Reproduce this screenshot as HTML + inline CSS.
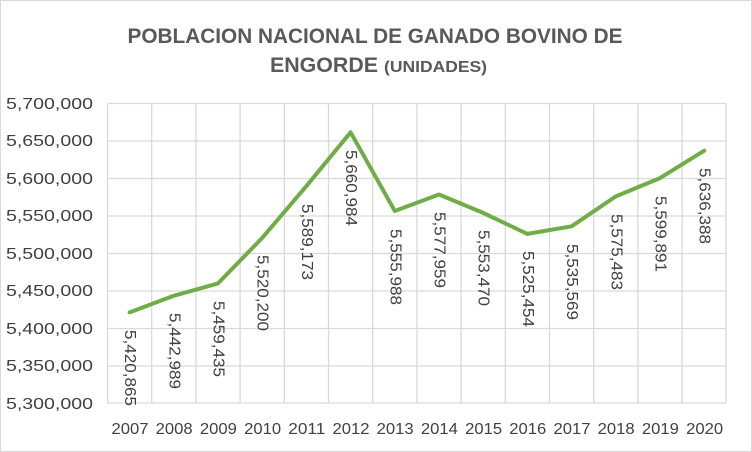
<!DOCTYPE html>
<html><head><meta charset="utf-8"><style>
html,body{margin:0;padding:0;background:#fff;}
svg{display:block;}
text{font-family:"Liberation Sans",sans-serif;}
</style></head><body>
<svg width="752" height="452" viewBox="0 0 752 452" xmlns="http://www.w3.org/2000/svg">
<rect x="0.5" y="0.5" width="751" height="451" fill="#fff" stroke="#d9d9d9"/>
<text x="375" y="43" text-anchor="middle" font-size="21" font-weight="bold" fill="#595959" textLength="495" lengthAdjust="spacingAndGlyphs">POBLACION NACIONAL DE GANADO BOVINO DE</text>
<text x="270" y="72" font-size="21" font-weight="bold" fill="#595959" textLength="108" lengthAdjust="spacingAndGlyphs">ENGORDE</text>
<text x="384" y="72" font-size="16" font-weight="bold" fill="#595959" textLength="103" lengthAdjust="spacingAndGlyphs">(UNIDADES)</text>
<g stroke="#d9d9d9" stroke-width="1.3" fill="none">
<path d="M107.5 103.5H726M107.5 141H726M107.5 178.5H726M107.5 216H726M107.5 253.5H726M107.5 291H726M107.5 328.5H726M107.5 366H726M107.5 403H726"/>
<path d="M107.5 103.5V403M151.7 103.5V403M195.9 103.5V403M240.1 103.5V403M284.3 103.5V403M328.5 103.5V403M372.7 103.5V403M416.9 103.5V403M461.1 103.5V403M505.3 103.5V403M549.5 103.5V403M593.7 103.5V403M637.9 103.5V403M682.1 103.5V403M726 103.5V403"/>
</g>
<g font-size="16" fill="#404040">
<text x="6" y="109" textLength="87" lengthAdjust="spacingAndGlyphs">5,700,000</text><text x="6" y="146" textLength="87" lengthAdjust="spacingAndGlyphs">5,650,000</text><text x="6" y="184" textLength="87" lengthAdjust="spacingAndGlyphs">5,600,000</text><text x="6" y="221" textLength="87" lengthAdjust="spacingAndGlyphs">5,550,000</text><text x="6" y="259" textLength="87" lengthAdjust="spacingAndGlyphs">5,500,000</text><text x="6" y="296" textLength="87" lengthAdjust="spacingAndGlyphs">5,450,000</text><text x="6" y="334" textLength="87" lengthAdjust="spacingAndGlyphs">5,400,000</text><text x="6" y="371" textLength="87" lengthAdjust="spacingAndGlyphs">5,350,000</text><text x="6" y="409" textLength="87" lengthAdjust="spacingAndGlyphs">5,300,000</text>
</g>
<g font-size="16" fill="#404040" text-anchor="middle">
<text x="130" y="434" textLength="37" lengthAdjust="spacingAndGlyphs">2007</text><text x="174.2" y="434" textLength="37" lengthAdjust="spacingAndGlyphs">2008</text><text x="218.4" y="434" textLength="37" lengthAdjust="spacingAndGlyphs">2009</text><text x="262.6" y="434" textLength="37" lengthAdjust="spacingAndGlyphs">2010</text><text x="306.8" y="434" textLength="37" lengthAdjust="spacingAndGlyphs">2011</text><text x="351" y="434" textLength="37" lengthAdjust="spacingAndGlyphs">2012</text><text x="395.2" y="434" textLength="37" lengthAdjust="spacingAndGlyphs">2013</text><text x="439.4" y="434" textLength="37" lengthAdjust="spacingAndGlyphs">2014</text><text x="483.6" y="434" textLength="37" lengthAdjust="spacingAndGlyphs">2015</text><text x="527.8" y="434" textLength="37" lengthAdjust="spacingAndGlyphs">2016</text><text x="572" y="434" textLength="37" lengthAdjust="spacingAndGlyphs">2017</text><text x="616.2" y="434" textLength="37" lengthAdjust="spacingAndGlyphs">2018</text><text x="660.4" y="434" textLength="37" lengthAdjust="spacingAndGlyphs">2019</text><text x="704.6" y="434" textLength="37" lengthAdjust="spacingAndGlyphs">2020</text>
</g>
<polyline fill="none" stroke="#70ad47" stroke-width="4" stroke-linejoin="round" stroke-linecap="round" points="129.6,312.4 173.8,295.8 218,283.4 262.2,237.9 306.4,186.1 350.6,132.3 394.8,211 439,194.5 483.2,212.9 527.4,233.9 571.6,226.3 615.8,196.4 660,178.1 704.2,150.7"/>
<g font-size="16" fill="#404040" dominant-baseline="central">
<text transform="translate(129.6,330) rotate(90)" textLength="76" lengthAdjust="spacingAndGlyphs">5,420,865</text>
<text transform="translate(173.8,313) rotate(90)" textLength="76" lengthAdjust="spacingAndGlyphs">5,442,989</text>
<text transform="translate(218,301) rotate(90)" textLength="76" lengthAdjust="spacingAndGlyphs">5,459,435</text>
<text transform="translate(262.2,255) rotate(90)" textLength="76" lengthAdjust="spacingAndGlyphs">5,520,200</text>
<text transform="translate(306.4,204) rotate(90)" textLength="76" lengthAdjust="spacingAndGlyphs">5,589,173</text>
<text transform="translate(350.6,150) rotate(90)" textLength="76" lengthAdjust="spacingAndGlyphs">5,660,984</text>
<text transform="translate(394.8,229) rotate(90)" textLength="76" lengthAdjust="spacingAndGlyphs">5,555,988</text>
<text transform="translate(439,212) rotate(90)" textLength="76" lengthAdjust="spacingAndGlyphs">5,577,959</text>
<text transform="translate(483.2,230) rotate(90)" textLength="76" lengthAdjust="spacingAndGlyphs">5,553,470</text>
<text transform="translate(527.4,251) rotate(90)" textLength="76" lengthAdjust="spacingAndGlyphs">5,525,454</text>
<text transform="translate(571.6,244) rotate(90)" textLength="76" lengthAdjust="spacingAndGlyphs">5,535,569</text>
<text transform="translate(615.8,214) rotate(90)" textLength="76" lengthAdjust="spacingAndGlyphs">5,575,483</text>
<text transform="translate(660,196) rotate(90)" textLength="76" lengthAdjust="spacingAndGlyphs">5,599,891</text>
<text transform="translate(704.2,168) rotate(90)" textLength="76" lengthAdjust="spacingAndGlyphs">5,636,388</text>
</g>
</svg>
</body></html>
